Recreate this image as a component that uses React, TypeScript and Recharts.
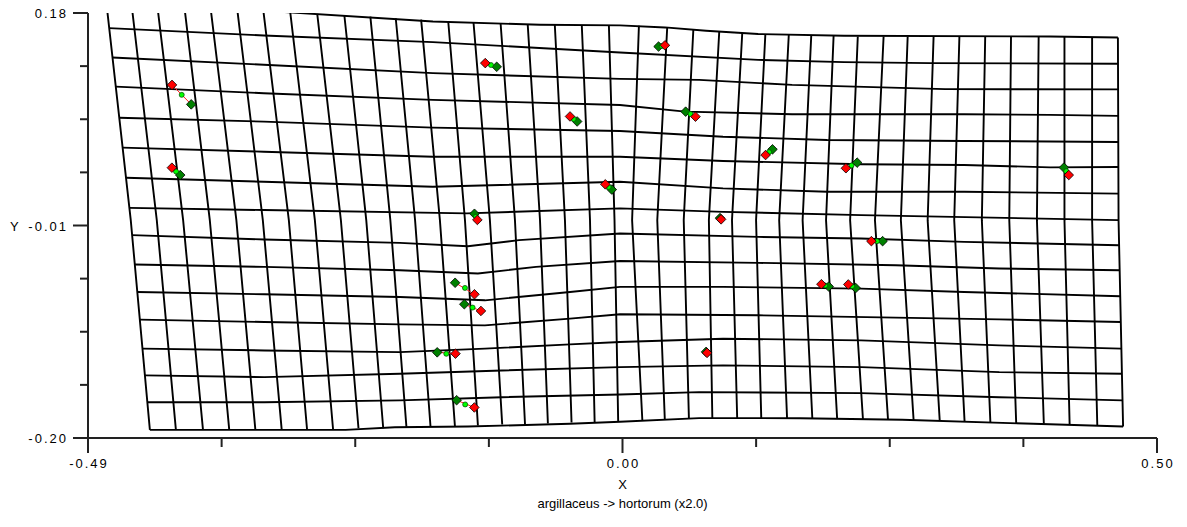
import { ScatterChart, Scatter, XAxis, YAxis, Label } from 'recharts';

type Pt = [number, number];

// axis ticks: eight equal steps, labelled at both ends and in the middle
const xTicks = [-0.49, -0.36625, -0.2425, -0.11875, 0.005, 0.12875, 0.2525, 0.37625, 0.5];
const xTickLabels = ['-0.49', '', '', '', '0.00', '', '', '', '0.50'];
const yTicks = [-0.2, -0.1525, -0.105, -0.0575, -0.01, 0.0375, 0.085, 0.1325, 0.18];
const yTickLabels = ['-0.20', '', '', '', '-0.01', '', '', '', '0.18'];

// landmarks: argillaceus (red), hortorum (light green), hortorum x2.0 (dark green)
const refPts: Pt[] = [
  [-0.4122, 0.1157], [-0.4123, 0.0417], [-0.1221, 0.1352], [-0.0436, 0.0875], [-0.0109, 0.0268],
  [-0.1294, -0.005], [0.0443, 0.1511], [0.0726, 0.0873], [0.1375, 0.053], [0.2119, 0.0412],
  [0.4183, 0.0351], [0.0963, -0.0045], [0.2355, -0.024], [0.1892, -0.0625], [0.2141, -0.0627],
  [0.0833, -0.1239], [-0.1321, -0.0715], [-0.1261, -0.0864], [-0.1497, -0.1246], [-0.1322, -0.1727],
];
const midPts: Pt[] = [
  [-0.4032, 0.1068], [-0.4085, 0.0383], [-0.1168, 0.1335], [-0.0403, 0.0853], [-0.0079, 0.0245],
  [-0.1307, -0.0022], [0.0413, 0.1505], [0.068, 0.0896], [0.1407, 0.0556], [0.2171, 0.0437],
  [0.416, 0.0385], [0.0958, -0.0039], [0.2407, -0.024], [0.1926, -0.0636], [0.2176, -0.0643],
  [0.0828, -0.1234], [-0.1409, -0.0658], [-0.1338, -0.0834], [-0.1582, -0.1247], [-0.1407, -0.17],
];
const tipPts: Pt[] = [
  [-0.3944, 0.0983], [-0.4046, 0.0351], [-0.1115, 0.1319], [-0.037, 0.083], [-0.0049, 0.0221],
  [-0.1321, 0.0005], [0.0384, 0.15], [0.0635, 0.0918], [0.1439, 0.0581], [0.2223, 0.0462],
  [0.4138, 0.0418], [0.0953, -0.0034], [0.2459, -0.024], [0.196, -0.0646], [0.221, -0.0659],
  [0.0824, -0.123], [-0.15, -0.0612], [-0.1415, -0.0804], [-0.1666, -0.1234], [-0.1486, -0.1662],
];

// deformed grid, horizontal lines (top to bottom)
const gridRows: Pt[][] = [
  [[-0.4736, 0.191], [-0.3087, 0.1809], [-0.1706, 0.1724], [-0.0714, 0.1695], [0.0027, 0.1689], [0.0444, 0.1671], [0.0824, 0.1641], [0.1306, 0.1612], [0.2102, 0.1596], [0.4011, 0.159], [0.4638, 0.1581]],
  [[-0.4705, 0.1665], [-0.3272, 0.1599], [-0.1706, 0.154], [0.0027, 0.1447], [0.1306, 0.1381], [0.2102, 0.1361], [0.2899, 0.1352], [0.4638, 0.1346]],
  [[-0.4675, 0.1402], [-0.3272, 0.1337], [-0.1706, 0.1262], [0.0027, 0.1211], [0.0759, 0.1202], [0.1621, 0.1157], [0.3038, 0.1119], [0.464, 0.1117]],
  [[-0.4644, 0.1142], [-0.3272, 0.1083], [-0.1706, 0.1023], [0.0027, 0.0978], [0.0629, 0.0918], [0.1621, 0.0895], [0.3214, 0.0895], [0.4011, 0.0889], [0.4641, 0.088]],
  [[-0.4612, 0.0864], [-0.3272, 0.0829], [-0.1706, 0.0775], [0.0027, 0.0745], [0.0981, 0.0694], [0.1945, 0.0665], [0.3214, 0.0656], [0.4641, 0.0647]],
  [[-0.458, 0.0596], [-0.3272, 0.056], [-0.1706, 0.0515], [0.0027, 0.0515], [0.0981, 0.0477], [0.226, 0.0447], [0.3214, 0.0441], [0.4011, 0.042], [0.4641, 0.0423]],
  [[-0.4549, 0.0327], [-0.3272, 0.0291], [-0.1706, 0.0246], [0.0027, 0.0291], [0.0981, 0.0232], [0.1945, 0.0202], [0.3214, 0.0202], [0.4643, 0.0185]],
  [[-0.4517, 0.0058], [-0.3272, 0.0038], [-0.1391, 0.0008], [0.0027, 0.0053], [0.0981, 0.0022], [0.226, -0.0007], [0.4644, -0.0052]],
  [[-0.4491, -0.0186], [-0.3267, -0.0225], [-0.2012, -0.0255], [-0.1382, -0.0285], [-0.0909, -0.0231], [0.0027, -0.0171], [0.1306, -0.0202], [0.226, -0.0216], [0.3214, -0.0246], [0.4649, -0.0276]],
  [[-0.4467, -0.0449], [-0.3267, -0.047], [-0.2012, -0.05], [-0.1289, -0.0529], [-0.0751, -0.047], [0.0027, -0.0417], [0.1306, -0.0434], [0.258, -0.0455], [0.3539, -0.0485], [0.4654, -0.05]],
  [[-0.4443, -0.0694], [-0.3267, -0.0715], [-0.2012, -0.0739], [-0.1224, -0.0769], [-0.0436, -0.0694], [0.0027, -0.0649], [0.0981, -0.0649], [0.226, -0.0664], [0.3214, -0.0694], [0.466, -0.0733]],
  [[-0.442, -0.0942], [-0.3267, -0.0963], [-0.2012, -0.0984], [-0.1224, -0.0993], [-0.0436, -0.0933], [0.0027, -0.0894], [0.1306, -0.0903], [0.258, -0.0924], [0.3539, -0.0939], [0.4665, -0.0963]],
  [[-0.4396, -0.1201], [-0.3267, -0.1217], [-0.2012, -0.1232], [-0.1224, -0.1201], [-0.0436, -0.1163], [0.0027, -0.1142], [0.0981, -0.1112], [0.226, -0.1127], [0.3539, -0.1172], [0.4669, -0.1201]],
  [[-0.4373, -0.144], [-0.3267, -0.1456], [-0.2012, -0.1425], [-0.1067, -0.1396], [0.0027, -0.1366], [0.0981, -0.1351], [0.226, -0.1366], [0.3539, -0.1411], [0.4676, -0.1425]],
  [[-0.435, -0.168], [-0.3267, -0.168], [-0.2012, -0.1664], [-0.1067, -0.1635], [0.0027, -0.1611], [0.0759, -0.159], [0.226, -0.1599], [0.3539, -0.1635], [0.468, -0.1664]],
  [[-0.4327, -0.1927], [-0.2514, -0.1927], [-0.2058, -0.1904], [-0.1382, -0.1897], [-0.0436, -0.1873], [0.0027, -0.1855], [0.0759, -0.1822], [0.1695, -0.1823], [0.264, -0.1837], [0.3854, -0.1873], [0.4686, -0.1897]],
];

// deformed grid, vertical lines (left to right): top, middle, bottom
const gridCols: Pt[][] = [
  [[-0.4731, 0.1901], [-0.4504, -0.0052], [-0.4327, -0.1927]],
  [[-0.4498, 0.1888], [-0.4263, -0.0052], [-0.4086, -0.1927]],
  [[-0.4259, 0.1874], [-0.4019, -0.0052], [-0.3835, -0.1927]],
  [[-0.4008, 0.1861], [-0.3772, -0.0052], [-0.3592, -0.1927]],
  [[-0.3765, 0.1847], [-0.3526, -0.0052], [-0.335, -0.1927]],
  [[-0.3518, 0.1834], [-0.3281, -0.0052], [-0.3106, -0.1927]],
  [[-0.3276, 0.182], [-0.304, -0.0052], [-0.2871, -0.1927]],
  [[-0.3027, 0.1807], [-0.2799, -0.0052], [-0.263, -0.1926]],
  [[-0.2777, 0.1793], [-0.2558, -0.0052], [-0.2395, -0.1913]],
  [[-0.2526, 0.178], [-0.2323, -0.0052], [-0.2166, -0.1913]],
  [[-0.2285, 0.1767], [-0.21, -0.0052], [-0.1951, -0.19]],
  [[-0.205, 0.1753], [-0.1871, -0.0052], [-0.1728, -0.1897]],
  [[-0.1815, 0.174], [-0.1641, -0.0052], [-0.1502, -0.1893]],
  [[-0.1564, 0.1726], [-0.1409, -0.0052], [-0.1289, -0.1888]],
  [[-0.133, 0.1717], [-0.1178, -0.0052], [-0.1064, -0.1879]],
  [[-0.1079, 0.1708], [-0.0946, -0.0052], [-0.0853, -0.1875]],
  [[-0.0828, 0.1701], [-0.0714, -0.0052], [-0.0641, -0.187]],
  [[-0.0577, 0.1695], [-0.0483, -0.0052], [-0.0422, -0.1862]],
  [[-0.0327, 0.1691], [-0.0251, -0.0052], [-0.0208, -0.1857]],
  [[-0.0076, 0.1689], [-0.0024, -0.0052], [0.001, -0.1853]],
  [[0.0202, 0.1686], [0.0139, -0.0052], [0.0234, -0.1846]],
  [[0.0464, 0.1671], [0.0372, -0.0052], [0.0442, -0.1839]],
  [[0.0706, 0.165], [0.0617, -0.0052], [0.0665, -0.1826]],
  [[0.0946, 0.1635], [0.085, -0.0052], [0.0882, -0.1821]],
  [[0.1159, 0.1621], [0.1064, -0.0052], [0.1112, -0.1821]],
  [[0.1373, 0.1612], [0.1287, -0.0052], [0.1335, -0.1821]],
  [[0.159, 0.1605], [0.1501, -0.0052], [0.1574, -0.1823]],
  [[0.1798, 0.1599], [0.1718, -0.0052], [0.1808, -0.1826]],
  [[0.2005, 0.1596], [0.1935, -0.0052], [0.2038, -0.183]],
  [[0.2229, 0.159], [0.2158, -0.0052], [0.2277, -0.1835]],
  [[0.2468, 0.159], [0.2388, -0.0052], [0.2509, -0.1837]],
  [[0.2691, 0.159], [0.2628, -0.0052], [0.2746, -0.1841]],
  [[0.2931, 0.159], [0.2876, -0.0052], [0.2988, -0.1848]],
  [[0.317, 0.159], [0.3122, -0.0052], [0.3218, -0.1855]],
  [[0.3409, 0.159], [0.3378, -0.0052], [0.3457, -0.1862]],
  [[0.3648, 0.159], [0.3632, -0.0052], [0.3696, -0.1868]],
  [[0.3904, 0.159], [0.3888, -0.0052], [0.3952, -0.1873]],
  [[0.4143, 0.159], [0.4143, -0.0052], [0.4191, -0.1879]],
  [[0.4399, 0.1586], [0.4399, -0.0052], [0.4447, -0.1884]],
  [[0.4638, 0.1581], [0.4644, -0.0052], [0.4686, -0.1897]],
];

const FONT = '"Liberation Sans", Arial, sans-serif';
const AXIS = '#222';
const GRID = { stroke: '#000', strokeWidth: 1.9 };

const toXY = (pts: Pt[]) => pts.map(([x, y]) => ({ x, y }));

const NoMark = () => <g />;

const diamond = (fill: string, r: number) => (p: any) => (
  <polygon
    points={`${p.cx},${p.cy - r} ${p.cx + r},${p.cy} ${p.cx},${p.cy + r} ${p.cx - r},${p.cy}`}
    fill={fill}
    stroke="#000"
    strokeWidth={0.8}
  />
);

const dot = (p: any) => (
  <circle cx={p.cx} cy={p.cy} r={2.5} fill="#00ff00" stroke="#004400" strokeWidth={0.7} />
);

const tickText = { fontSize: 13, fontFamily: FONT, fill: '#000', letterSpacing: 2 };

const XTick = (p: any) => {
  const label = xTickLabels[p.index];
  return (
    <g>
      <line x1={p.x} y1={p.y} x2={p.x} y2={p.y + (label ? 15 : 9)} stroke={AXIS} strokeWidth={2} />
      {label && (
        <text x={p.x + 1} y={p.y + 30} textAnchor="middle" {...tickText}>
          {label}
        </text>
      )}
    </g>
  );
};

const YTick = (p: any) => {
  const label = yTickLabels[p.index];
  return (
    <g>
      <line x1={p.x - (label ? 15 : 8)} y1={p.y} x2={p.x} y2={p.y} stroke={AXIS} strokeWidth={2} />
      {label && (
        <text x={p.x - 20} y={p.y + 5} textAnchor="end" {...tickText}>
          {label}
        </text>
      )}
    </g>
  );
};

export default function App() {
  return (
    <div style={{ width: 1179, height: 527, marginTop: -8, background: '#fff' }}>
      <ScatterChart width={1179} height={527} margin={{ top: 13, right: 30, bottom: 0, left: 0 }}>
        <XAxis
          type="number"
          dataKey="x"
          domain={[-0.49, 0.5]}
          ticks={xTicks}
          interval={0}
          allowDataOverflow
          height={89}
          tickSize={0}
          tickMargin={0}
          tickLine={false}
          axisLine={{ stroke: AXIS, strokeWidth: 2 }}
          tick={<XTick />}
        >
          <Label
            content={({ viewBox }: any) => (
              <g fontFamily={FONT} fontSize={13} fill="#000" textAnchor="middle">
                <text x={viewBox.x + viewBox.width / 2} y={viewBox.y + 51}>X</text>
                <text x={viewBox.x + viewBox.width / 2} y={viewBox.y + 70}>argillaceus -&gt; hortorum (x2.0)</text>
              </g>
            )}
          />
        </XAxis>
        <YAxis
          type="number"
          dataKey="y"
          domain={[-0.2, 0.18]}
          ticks={yTicks}
          interval={0}
          allowDataOverflow
          width={80}
          tickSize={0}
          tickMargin={0}
          tickLine={false}
          axisLine={{ stroke: AXIS, strokeWidth: 2 }}
          tick={<YTick />}
        >
          <Label
            content={({ viewBox }: any) => (
              <text x={viewBox.x + 2} y={viewBox.y + viewBox.height / 2 + 5} fontFamily={FONT} fontSize={13} fill="#000">
                Y
              </text>
            )}
          />
        </YAxis>

        {gridRows.map((row, i) => (
          <Scatter key={`row-${i}`} data={toXY(row)} line={GRID} shape={NoMark} isAnimationActive={false} />
        ))}
        {gridCols.map((col, i) => (
          <Scatter key={`col-${i}`} data={toXY(col)} line={GRID} shape={NoMark} isAnimationActive={false} />
        ))}

        {refPts.map((r, i) => (
          <Scatter
            key={`link-${i}`}
            data={toXY([r, tipPts[i]])}
            line={{ stroke: '#ff2020', strokeWidth: 1 }}
            shape={NoMark}
            isAnimationActive={false}
          />
        ))}
        <Scatter data={toXY(tipPts)} shape={diamond('#008000', 4.8)} isAnimationActive={false} />
        <Scatter data={toXY(midPts)} shape={dot} isAnimationActive={false} />
        <Scatter data={toXY(refPts)} shape={diamond('#ff0000', 4.8)} isAnimationActive={false} />
      </ScatterChart>
    </div>
  );
}
